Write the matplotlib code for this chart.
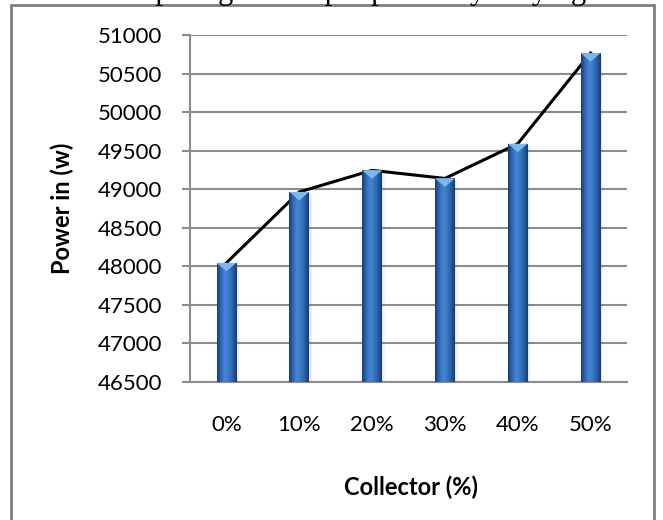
import numpy as np
import matplotlib
matplotlib.use('Agg')
from matplotlib import pyplot as plt
from matplotlib.colors import LinearSegmentedColormap
from matplotlib.patches import Polygon, Rectangle

# Data
collector = ['0%', '10%', '20%', '30%', '40%', '50%']
power = [48045, 48965, 49245, 49140, 49590, 50765]
y_ticks = [46500, 47000, 47500, 48000, 48500, 49000, 49500, 50000, 50500, 51000]

plt.rcParams['font.family'] = ['Lato', 'DejaVu Sans']

W, H = 663, 520
fig = plt.figure(figsize=(W / 100, H / 100), dpi=100)
ax = fig.add_axes([190 / W, 1 - 382 / H, (627 - 190) / W, (382 - 35) / H])

x = np.arange(len(collector))
bar_w = 0.27

# connecting line drawn underneath the bars
ax.plot(x, power, color='black', lw=2.2, zorder=2)

bars = ax.bar(x, [p - y_ticks[0] for p in power], bottom=y_ticks[0], width=bar_w,
              color='#2c66b0', zorder=3)

cmap = LinearSegmentedColormap.from_list(
    'cyl', ['#183f73', '#2d68b5', '#4784d3', '#3a77c5', '#2a5fa6', '#173c6e'])
grad = np.linspace(0, 1, 64).reshape(1, -1)
for xi, b in zip(x, bars):
    x0, y0 = b.get_x(), b.get_y()
    bw, bh = b.get_width(), b.get_height()
    # soft shadow on the right
    for k, a in enumerate([0.10, 0.06, 0.03]):
        ax.add_patch(Rectangle((x0 + bw * (0.08 + 0.06 * k), y0), bw, bh - 30,
                               color='gray', alpha=a, lw=0, zorder=2.5))
    im = ax.imshow(grad, cmap=cmap, aspect='auto', extent=(x0, x0 + bw, y0, y0 + bh),
                   zorder=3.5, interpolation='bicubic')
    im.set_clip_path(b)
    # light bevel on the top
    top = y0 + bh
    ax.add_patch(Polygon([(x0, top), (x0 + bw, top), (xi, top - 110)],
                         closed=True, color='#7ab8f0', lw=0, zorder=4))

ax.set_xlim(-0.5, len(collector) - 0.5)
ax.set_ylim(y_ticks[0], y_ticks[-1])
ax.set_yticks(y_ticks)
ax.set_xticks(x)
ax.set_xticklabels(collector)
ax.grid(axis='y', color='#8c8c8c', lw=1.5, zorder=0)
ax.set_axisbelow(True)

for s in ['top', 'right']:
    ax.spines[s].set_visible(False)
for s in ['left', 'bottom']:
    ax.spines[s].set_color('#8c8c8c')
    ax.spines[s].set_linewidth(1.5)
ax.tick_params(axis='y', length=6, width=1.5, color='#8c8c8c', pad=14, labelsize=16)
ax.tick_params(axis='x', length=0, pad=24, labelsize=16)

fig.text(411 / W, 1 - 487 / H, 'Collector (%)', ha='center', va='center',
         fontsize=17, fontweight='bold')
fig.text(62 / W, 1 - 208 / H, 'Power in (w)', ha='center', va='center',
         rotation=90, fontsize=17, fontweight='bold')

# page border around the chart and the clipped caption above it
fig.add_artist(Rectangle((11 / W, -0.05), (654 - 11) / W, 1.05 - 5 / H,
                         transform=fig.transFigure, fill=False,
                         edgecolor='#7f7f7f', lw=2))
fig.text(0.52, 1 + 1.5 / H, 'comparing the output power by varying',
         ha='center', va='baseline', fontsize=22, family='Liberation Serif')

fig.savefig('out.png', dpi=100)
